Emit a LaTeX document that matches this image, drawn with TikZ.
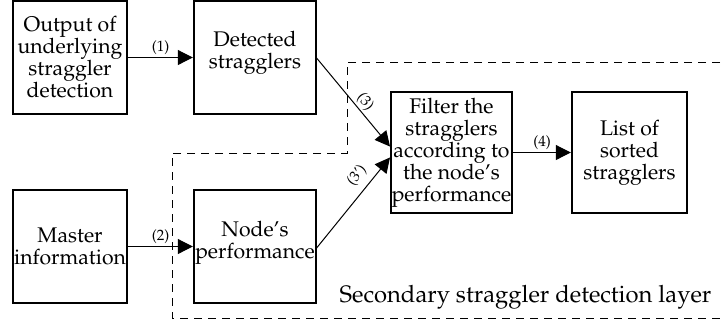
\documentclass[tikz,border=0pt]{standalone}
\usepackage[T1]{fontenc}
\usepackage{mathpazo}
\usetikzlibrary{arrows.meta}
\tikzset{
  box/.style={draw, line width=0.6pt, inner sep=0pt, align=center,
    font=\fontsize{10.6}{11}\selectfont},
  boxtext/.style={inner sep=0pt, align=center, font=\fontsize{10.6}{11}\selectfont},
  conn/.style={line width=0.5pt, -{Triangle[length=7.5pt,width=7.5pt]}, shorten >=0.3pt},
  lab/.style={font=\fontsize{7.5}{8}\selectfont, inner sep=1pt},
  layer/.style={dash pattern=on 4pt off 3pt, line width=0.5pt}
}
\begin{document}
\begin{tikzpicture}[x=0.5pt,y=-0.5pt]
\useasboundingbox (0,0) rectangle (724,323);
\node[box, minimum width=57pt, minimum height=56.5pt] (A) at (70,57.5) {Output of\\underlying\\straggler\\detection};
\node[box, minimum width=61pt, minimum height=56.5pt] (B) at (255,57.5) {};
\node[boxtext] (Bt) at (255,52.5) {Detected\\stragglers};
\node[box, minimum width=57pt, minimum height=56.5pt] (C) at (70,246.5) {Master\\information};
\node[box, minimum width=61pt, minimum height=56.5pt] (D) at (255,246.5) {};
\node[boxtext] (Dt) at (255,243) {Node's\\performance};
\node[box, minimum width=60.5pt, minimum height=60.5pt] (E) at (451.5,152.5) {Filter the\\stragglers\\according to\\the node's\\performance};
\node[box, minimum width=57.5pt, minimum height=60.5pt] (F) at (629.5,152.5) {List of\\sorted\\stragglers};
\coordinate (Din) at ([yshift=-0.75pt]D.east);
\draw[conn] (A.east) -- node[lab, above] {(1)} (B.west);
\draw[conn] (C.east) -- node[lab, above] {(2)} (D.west);
\draw[conn] ([yshift=-0.25pt]B.east) -- node[lab, sloped, above, pos=0.56] {(3)} ([yshift=2.75pt]E.west);
\draw[conn] (Din) -- node[lab, sloped, above=2.5pt, pos=0.7] {(3')} ([yshift=-2.25pt]E.west);
\draw[conn] (E.east) -- node[lab, above] {(4)} (F.west);
\coordinate (L1) at (720,62);
\coordinate (L2) at (347,62);
\coordinate (L3) at (347,153);
\coordinate (L4) at (172,153);
\coordinate (L5) at (172,318);
\coordinate (L6) at (720,318);
\draw[layer] (L1) -- (L2) -- (L3) -- (L4) -- (L5) -- (L6);
\node[font=\fontsize{11.9}{14}\selectfont, anchor=base, inner sep=0pt] (T) at (525.5,302.5) {Secondary straggler detection layer};
\end{tikzpicture}
\end{document}
